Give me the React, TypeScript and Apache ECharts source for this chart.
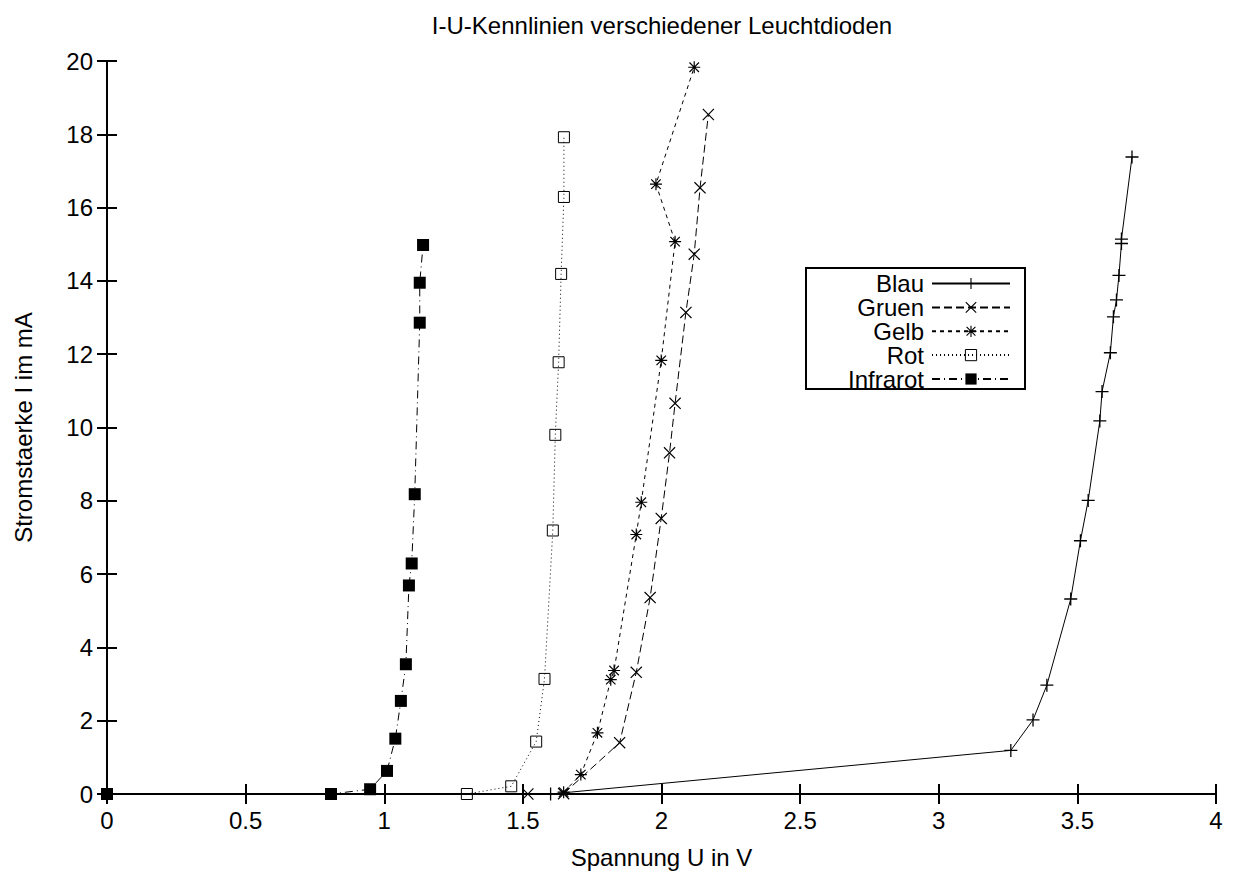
import React, { useEffect, useRef } from "react";
import * as echarts from "echarts";

// ---- Data (U in V, I in mA) ----
const SERIES_NAMES = ["Blau", "Gruen", "Gelb", "Rot", "Infrarot"];

const BLAU: [number, number][] = [
  [1.6, 0], [3.26, 1.19], [3.34, 2.02], [3.39, 2.97], [3.476, 5.32], [3.511, 6.91],
  [3.539, 8.01], [3.581, 10.18], [3.589, 10.98], [3.619, 12.04], [3.63, 13.02],
  [3.641, 13.48], [3.65, 14.15], [3.659, 15.02], [3.659, 15.14], [3.697, 17.38],
];
const GRUEN: [number, number][] = [
  [1.518, 0], [1.647, 0.01], [1.849, 1.4], [1.909, 3.32], [1.959, 5.36], [1.999, 7.52],
  [2.029, 9.31], [2.049, 10.66], [2.088, 13.14], [2.118, 14.73], [2.139, 16.54], [2.169, 18.54],
];
const GELB: [number, number][] = [
  [1.647, 0.05], [1.709, 0.53], [1.769, 1.67], [1.817, 3.12], [1.829, 3.37], [1.909, 7.08],
  [1.927, 7.96], [1.999, 11.83], [2.049, 15.07], [1.98, 16.64], [2.118, 19.83],
];
const ROT: [number, number][] = [
  [1.298, 0], [1.458, 0.21], [1.548, 1.43], [1.578, 3.14], [1.608, 7.19], [1.617, 9.8],
  [1.629, 11.78], [1.638, 14.19], [1.648, 16.29], [1.648, 17.92],
];
const INFRAROT: [number, number][] = [
  [0, 0], [0.808, 0], [0.949, 0.13], [1.01, 0.63], [1.04, 1.51], [1.06, 2.54], [1.078, 3.54],
  [1.089, 5.69], [1.099, 6.29], [1.11, 8.18], [1.128, 12.86], [1.128, 13.95], [1.14, 14.98],
];

const X_MIN = 0, X_MAX = 4, X_STEP = 0.5;
const Y_MIN = 0, Y_MAX = 20, Y_STEP = 2;

const TITLE = "I-U-Kennlinien verschiedener Leuchtdioden";
const X_NAME = "Spannung U in V";
const Y_NAME = "Stromstaerke I im mA";

// ---- Symbols ----
const PLUS = "path://M45 0H55V45H100V55H55V100H45V55H0V45H45Z";
const CROSS = "path://M0 7L7 0L50 43L93 0L100 7L57 50L100 93L93 100L50 57L7 100L0 93L43 50Z";
const STAR =
  "path://M45 0H55V45H100V55H55V100H45V55H0V45H45Z M7 14L14 7L50 43L86 7L93 14L57 50L93 86L86 93L50 57L14 93L7 86L43 50Z";

const FONT = '"Liberation Sans", Arial, sans-serif';

export default function App() {
  const ref = useRef<HTMLDivElement>(null);

  useEffect(() => {
    if (!ref.current) return;
    const chart = echarts.init(ref.current, undefined, { renderer: "svg" });

    const datasets = [BLAU, GRUEN, GELB, ROT, INFRAROT];
    const symbols = [PLUS, CROSS, STAR, "rect", "rect"];
    const sizes = [13, 12, 12, 11, 12];
    const dashes: any[] = ["solid", [8, 4], [4, 4], [1, 3], [8, 4, 1, 4]];
    const fills = ["#000", "#000", "#000", "rgba(255,255,255,0)", "#000"];

    const series = SERIES_NAMES.map((name, i) => ({
      name,
      type: "line",
      data: datasets[i],
      symbol: symbols[i],
      symbolSize: sizes[i],
      showSymbol: true,
      showAllSymbol: true,
      clip: false,
      xAxisIndex: 0,
      yAxisIndex: 0,
      lineStyle: { color: "#000", width: 1, type: dashes[i] },
      itemStyle: {
        color: fills[i],
        borderColor: "#000",
        borderWidth: i === 3 ? 1 : 0,
      },
      emphasis: { disabled: true },
      z: 3,
    }));

    const rowCenters = [282.5, 306.4, 330.3, 354.1, 378];
    const legends = SERIES_NAMES.map((name, i) => ({
      data: [name],
      orient: "vertical",
      align: "right",
      right: 228,
      top: rowCenters[i] - 11,
      padding: 0,
      itemWidth: 78,
      itemHeight: 14,
      selectedMode: false,
      textStyle: {
        fontSize: 24,
        fontFamily: FONT,
        color: "#000",
        lineHeight: 22,
        padding: [0, 3, 0, 0],
      },
      itemStyle: { borderWidth: i === 3 ? 1 : 0 },
    }));

    const axisCommon = {
      type: "value",
      axisLine: { show: true, lineStyle: { color: "#000", width: 2 } },
      axisTick: { show: true, inside: true, length: 10, lineStyle: { color: "#000", width: 2 } },
      splitLine: { show: false },
    };

    chart.setOption({
      animation: false,
      backgroundColor: "#fff",
      textStyle: { fontFamily: FONT, color: "#000" },
      grid: { left: 107, right: 23, top: 61, bottom: 77, containLabel: false },
      xAxis: [
        {
          ...axisCommon,
          position: "bottom",
          min: X_MIN,
          max: X_MAX,
          interval: X_STEP,
          name: X_NAME,
          nameLocation: "middle",
          nameGap: 51,
          nameTextStyle: { fontSize: 24, fontFamily: FONT, color: "#000" },
          axisLabel: { fontSize: 24, fontFamily: FONT, color: "#000", margin: 14 },
        },
        {
          ...axisCommon,
          position: "top",
          min: X_MIN,
          max: X_MAX,
          interval: X_STEP,
          axisLabel: { show: false },
        },
      ],
      yAxis: [
        {
          ...axisCommon,
          position: "left",
          min: Y_MIN,
          max: Y_MAX,
          interval: Y_STEP,
          name: Y_NAME,
          nameLocation: "middle",
          nameGap: 72,
          nameTextStyle: { fontSize: 24, fontFamily: FONT, color: "#000" },
          axisLabel: { fontSize: 24, fontFamily: FONT, color: "#000", margin: 14 },
        },
        {
          ...axisCommon,
          position: "right",
          min: Y_MIN,
          max: Y_MAX,
          interval: Y_STEP,
          axisLabel: { show: false },
        },
      ],
      legend: legends,
      graphic: [
        {
          type: "text",
          x: 662,
          y: 25,
          style: {
            text: TITLE,
            fontSize: 24,
            fontFamily: FONT,
            fill: "#000",
            align: "center",
            verticalAlign: "middle",
          },
        },
        {
          type: "rect",
          shape: { x: 806, y: 268, width: 219, height: 121 },
          style: { fill: "none", stroke: "#000", lineWidth: 2 },
          z: 10,
        },
      ],
      series,
    });

    return () => chart.dispose();
  }, []);

  return (
    <div
      ref={ref}
      style={{ position: "fixed", left: 0, top: 0, width: 1239, height: 874, background: "#fff" }}
    />
  );
}
